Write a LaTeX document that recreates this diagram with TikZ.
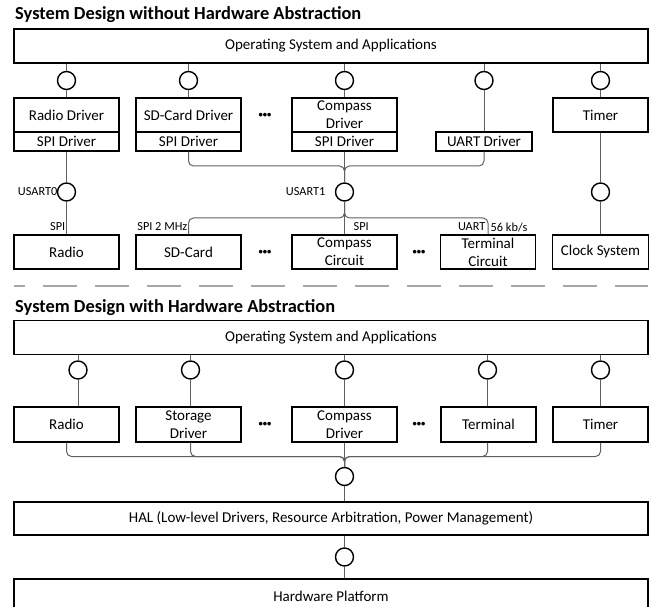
\documentclass[tikz,border=0pt]{standalone}
\usepackage{fontspec}
\setmainfont{Carlito}
\definecolor{wirecol}{HTML}{606060}
\definecolor{dashcol}{HTML}{A6A6A6}
\begin{document}
\begin{tikzpicture}[x=1pt,y=-1pt,
  box/.style={draw, line width=1.4pt, fill=white, inner sep=0pt, align=center, font=\fontsize{15}{18}\selectfont},
  port/.style={circle, draw, line width=1.4pt, fill=white, minimum size=18pt, inner sep=0pt},
  wire/.style={draw=wirecol, line width=1pt},
  bus/.style={wire, rounded corners=5pt},
  lbl/.style={font=\fontsize{12.3}{13}\selectfont, inner sep=0pt},
  dots/.style={font=\fontsize{8.5}{9}\selectfont\bfseries, inner sep=0pt},
  title/.style={font=\fontsize{18.4}{22}\selectfont\bfseries, inner sep=0pt, anchor=base west}]
\useasboundingbox (0,0) rectangle (654,607);
\clip (0,0) rectangle (654,607);

% ---------- Section 1 ----------
\node[title] (t1) at (15,20) {System Design without Hardware Abstraction};
\node[box, minimum width=634pt, minimum height=34pt] (os1) at (331,46) {Operating System and Applications};

\node[port] (p1a) at (66.5,80.5) {};
\node[port] (p1b) at (188.5,80.5) {};
\node[port] (p1c) at (344.5,80.5) {};
\node[port] (p1d) at (484,80.5) {};
\node[port] (p1e) at (600.5,80.5) {};

\node[box, minimum width=105pt, minimum height=34pt] (rd1) at (66.5,115) {Radio Driver};
\node[box, minimum width=105pt, minimum height=19pt] (rs1) at (66.5,141.5) {SPI Driver};
\node[box, minimum width=105pt, minimum height=34pt] (sd1) at (188.5,115) {SD-Card Driver};
\node[box, minimum width=105pt, minimum height=19pt] (ss1) at (188.5,141.5) {SPI Driver};
\node[dots] (d1) at (265,115) {•••};
\node[box, minimum width=105pt, minimum height=34pt] (cd1) at (344.5,115) {Compass\\Driver};
\node[box, minimum width=105pt, minimum height=19pt] (cs1) at (344.5,141.5) {SPI Driver};
\node[box, minimum width=96pt, minimum height=19pt] (us1) at (484,141.5) {UART Driver};
\node[box, minimum width=95pt, minimum height=34pt] (tm1) at (600.5,115) {Timer};

\node[port] (u0) at (66.5,192) {};
\node[port] (u1) at (344.5,192) {};
\node[port] (ck) at (600.5,192) {};
\node[lbl, anchor=east] (lu0) at (57.5,192) {USART0};
\node[lbl, anchor=east] (lu1) at (325.5,192) {USART1};

\node[box, minimum width=105pt, minimum height=34pt] (radio) at (66.5,252) {Radio};
\node[box, minimum width=105pt, minimum height=34pt] (sdc) at (188.5,252) {SD-Card};
\node[dots] (d2) at (265,252) {•••};
\node[box, minimum width=105pt, minimum height=34pt] (cc) at (344.5,252) {Compass\\Circuit};
\node[dots] (d3) at (419,252) {•••};
\node[box, minimum width=95pt, minimum height=34pt] (tc) at (488,252) {Terminal\\Circuit};
\node[box, minimum width=96pt, minimum height=34pt] (cls) at (600.5,252) {Clock System};

\node[lbl, anchor=east] (l1) at (65.5,227) {SPI};
\node[lbl, anchor=east] (l2) at (187.5,227) {SPI 2 MHz};
\node[lbl, anchor=west] (l3) at (353.5,227) {SPI};
\node[lbl, anchor=east] (l4) at (485.5,227) {UART};
\node[lbl, anchor=west] (l5) at (490.5,227) {56 kb/s};

\draw[wire] (os1.south -| p1a) -- (p1a.north);
\draw[wire] (os1.south -| p1b) -- (p1b.north);
\draw[wire] (os1.south -| p1c) -- (p1c.north);
\draw[wire] (os1.south -| p1d) -- (p1d.north);
\draw[wire] (os1.south -| p1e) -- (p1e.north);
\draw[wire] (p1a.south) -- (rd1.north);
\draw[wire] (p1b.south) -- (sd1.north);
\draw[wire] (p1c.south) -- (cd1.north);
\draw[wire] (p1d.south) -- (us1.north);
\draw[wire] (p1e.south) -- (tm1.north);

\draw[wire] (rs1.south) -- (u0.north);
\draw[wire] (u0.south) -- (radio.north);
\coordinate (j1) at (344.5,166);
\coordinate (j2) at (344.5,218);
\draw[bus] (ss1.south) |- (j1) -- (u1.north);
\draw[bus] (us1.south) |- (j1) -- (u1.north);
\draw[wire] (cs1.south) -- (u1.north);
\draw[bus] (u1.south) -- (j2) -| (sdc.north);
\draw[bus] (u1.south) -- (j2) -| (tc.north);
\draw[wire] (u1.south) -- (cc.north);
\draw[wire] (tm1.south) -- (ck.north);
\draw[wire] (ck.south) -- (cls.north);

% separator
\coordinate (dl) at (14,286);
\coordinate (dr) at (648,286);
\draw[dashcol, line width=1.8pt, dash pattern=on 34pt off 18pt, dash phase=23pt] (dl) -- (dr);

% ---------- Section 2 ----------
\node[title] (t2) at (15,312.5) {System Design with Hardware Abstraction};
\node[box, minimum width=634pt, minimum height=33.5pt] (os2) at (331,337.5) {Operating System and Applications};

\node[port] (p2a) at (78,370) {};
\node[port] (p2b) at (190.5,370) {};
\node[port] (p2c) at (344.5,370) {};
\node[port] (p2d) at (487.5,370) {};
\node[port] (p2e) at (600.5,370) {};

\node[box, minimum width=105pt, minimum height=35pt] (r2) at (66.5,424.5) {Radio};
\node[box, minimum width=105pt, minimum height=35pt] (st2) at (188.5,424.5) {Storage\\Driver};
\node[dots] (d4) at (265,424.5) {•••};
\node[box, minimum width=105pt, minimum height=35pt] (cd2) at (344.5,424.5) {Compass\\Driver};
\node[dots] (d5) at (419,424.5) {•••};
\node[box, minimum width=95pt, minimum height=35pt] (te2) at (488.5,424.5) {Terminal};
\node[box, minimum width=95pt, minimum height=35pt] (ti2) at (600.5,424.5) {Timer};

\draw[wire] (os2.south -| p2a) -- (p2a.north);
\draw[wire] (os2.south -| p2b) -- (p2b.north);
\draw[wire] (os2.south -| p2c) -- (p2c.north);
\draw[wire] (os2.south -| p2d) -- (p2d.north);
\draw[wire] (os2.south -| p2e) -- (p2e.north);
\draw[wire] (p2a.south) -- (p2a.south |- r2.north);
\draw[wire] (p2b.south) -- (p2b.south |- st2.north);
\draw[wire] (p2c.south) -- (cd2.north);
\draw[wire] (p2d.south) -- (p2d.south |- te2.north);
\draw[wire] (p2e.south) -- (ti2.north);

\node[port] (h1) at (344.5,476.5) {};
\node[box, minimum width=634pt, minimum height=33pt] (hal) at (331,518.5) {HAL (Low-level Drivers, Resource Arbitration, Power Management)};
\node[port] (h2) at (344.5,557) {};
\node[box, minimum width=634pt, minimum height=34pt] (hw) at (331,596) {Hardware Platform};

\coordinate (j3) at (344.5,456.5);
\draw[bus] (r2.south) |- (j3) -- (h1.north);
\draw[bus] (p2b |- st2.south) |- (j3) -- (h1.north);
\draw[bus] (p2d |- te2.south) |- (j3) -- (h1.north);
\draw[bus] (ti2.south) |- (j3) -- (h1.north);
\draw[wire] (cd2.south) -- (h1.north);
\draw[wire] (h1.south) -- (h1.south |- hal.north);
\draw[wire] (hal.south -| h2) -- (h2.north);
\draw[wire] (h2.south) -- (h2.south |- hw.north);
\end{tikzpicture}
\end{document}
